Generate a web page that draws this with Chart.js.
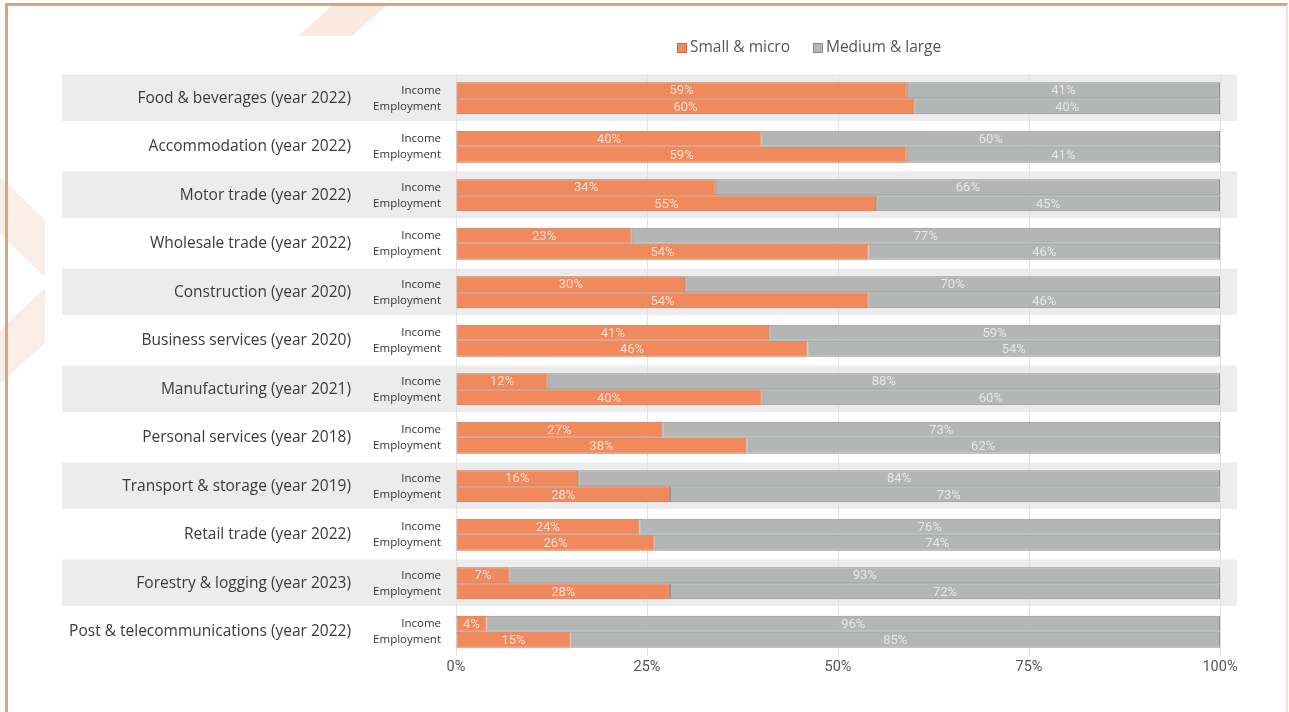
<!DOCTYPE html>
<html>
<head>
<meta charset="utf-8">
<script src="https://cdn.jsdelivr.net/npm/chart.js@4.4.1/dist/chart.umd.min.js"></script>
<style>
  html, body { margin: 0; padding: 0; background: #fff; }
  #wrap { position: relative; width: 1289px; height: 712px; overflow: hidden; }
  #deco { position: absolute; left: 0; top: 0; }
  #frame { position: absolute; left: 5px; top: 3px; width: 1278px; height: 720px;
           border-left: 3px solid #dba67c; border-top: 3px solid #d9a47a; border-right: 2px solid #f3e2d4; }
  #myChart { position: absolute; left: 0; top: 0; }
</style>
</head>
<body>
<div id="wrap">
  <svg id="deco" width="1289" height="712">
    <polygon points="333,5 387,5 352,36 298,36" fill="#fbeadf"/>
    <polygon points="0,177 45,220 45,277 0,234" fill="#f8eee7"/>
    <polygon points="45,288 45,343 0,384 0,330" fill="#f8eee7"/>
  </svg>
  <div id="frame"></div>
  <canvas id="myChart" width="1289" height="712"></canvas>
</div>
<script>
categories = [
  'Food & beverages (year 2022)',
  'Accommodation (year 2022)',
  'Motor trade (year 2022)',
  'Wholesale trade (year 2022)',
  'Construction (year 2020)',
  'Business services (year 2020)',
  'Manufacturing (year 2021)',
  'Personal services (year 2018)',
  'Transport & storage (year 2019)',
  'Retail trade (year 2022)',
  'Forestry & logging (year 2023)',
  'Post & telecommunications (year 2022)'
]
seriesNames = ['Small & micro', 'Medium & large']
rowLabels = ['Income', 'Employment']

incomeSmall     = [59, 40, 34, 23, 30, 41, 12, 27, 16, 24, 7, 4]
incomeLarge     = [41, 60, 66, 77, 70, 59, 88, 73, 84, 76, 93, 96]
employmentSmall = [60, 59, 55, 54, 54, 46, 40, 38, 28, 26, 28, 15]
employmentLarge = [40, 41, 45, 46, 46, 54, 60, 62, 73, 74, 72, 85]

xTickLabels = ['0%', '25%', '50%', '75%', '100%']

var orange = '#f0895c', orangeEdge = '#c96e48'
var grey = '#b4b6b6', greyEdge = '#8e9090'

function makeSet(label, values, stack, fill, edge) {
  return {
    label: label,
    data: values,
    stack: stack,
    backgroundColor: fill,
    borderColor: edge,
    borderWidth: 1,
    borderSkipped: false,
    categoryPercentage: 0.66,
    barPercentage: 1
  }
}

var datasets = [
  makeSet(seriesNames[0], incomeSmall, 'income', orange, orangeEdge),
  makeSet(seriesNames[1], incomeLarge, 'income', grey, greyEdge),
  makeSet(seriesNames[0], employmentSmall, 'employment', orange, orangeEdge),
  makeSet(seriesNames[1], employmentLarge, 'employment', grey, greyEdge)
]

// grey bands behind every other category
const bands = {
  id: 'bands',
  beforeDraw(chart) {
    const ctx = chart.ctx, y = chart.scales.y, area = chart.chartArea
    const step = (y.getPixelForValue(1) - y.getPixelForValue(0))
    ctx.save()
    ctx.fillStyle = '#ececec'
    categories.forEach((c, i) => {
      if (i % 2 !== 0) return
      const cy = y.getPixelForValue(i)
      ctx.fillRect(area.left - 394, cy - step / 2 + 0.5, area.right - area.left + 411, step - 2)
    })
    ctx.restore()
  }
}

// percent labels, row labels and legend
const labels = {
  id: 'labels',
  afterDatasetsDraw(chart) {
    const ctx = chart.ctx, area = chart.chartArea
    ctx.save()
    ctx.textBaseline = 'middle'
    ctx.textAlign = 'center'
    ctx.font = '13px "Roboto", sans-serif'
    chart.data.datasets.forEach((ds, d) => {
      chart.getDatasetMeta(d).data.forEach((bar, i) => {
        ctx.fillStyle = (d % 2 === 0) ? 'rgba(255,236,225,0.85)' : 'rgba(240,240,240,0.85)'
        ctx.fillText(ds.data[i] + '%', (bar.x + bar.base) / 2, bar.y + 1)
      })
    })
    ctx.textAlign = 'right'
    ctx.font = '11.5px "Open Sans"'
    ctx.fillStyle = '#333'
    ;[0, 2].forEach((d, k) => {
      chart.getDatasetMeta(d).data.forEach((bar) => {
        ctx.fillText(rowLabels[k], area.left - 15, bar.y)
      })
    })
    // legend
    ctx.font = '15.5px "Open Sans"'
    ctx.textAlign = 'left'
    var lx = area.left + 221, ly = 48
    ;[[orange, orangeEdge], [grey, greyEdge]].forEach((c, k) => {
      ctx.fillStyle = c[0]
      ctx.fillRect(lx, ly - 5, 10, 10)
      ctx.strokeStyle = c[1]
      ctx.lineWidth = 1
      ctx.strokeRect(lx + 0.5, ly - 4.5, 9, 9)
      ctx.fillStyle = '#555'
      ctx.fillText(seriesNames[k], lx + 13, ly)
      lx += 13 + ctx.measureText(seriesNames[k]).width + 23
    })
    ctx.restore()
  }
}

Chart.defaults.font.family = '"Open Sans", sans-serif'

var ctx = document.getElementById('myChart')
var bar = new Chart(ctx, {
  type: 'bar',
  data: {
    labels: categories,
    datasets: datasets
  },
  options: {
    indexAxis: 'y',
    responsive: false,
    animation: false,
    layout: {
      padding: { left: 10, right: 69, top: 74, bottom: 0 }
    },
    scales: {
      x: {
        stacked: true,
        min: 0,
        max: 100,
        ticks: {
          stepSize: 25,
          padding: 3,
          color: '#555',
          font: { size: 14.5, family: '"Roboto", sans-serif' },
          callback: (v, i) => xTickLabels[i]
        },
        grid: { color: '#e2e2e2', drawTicks: false },
        border: { display: false },
        afterFit: (s) => { s.height = 56; s.paddingLeft = 0; s.paddingRight = 0 }
      },
      y: {
        stacked: true,
        ticks: {
          padding: 105,
          color: '#3a3a3a',
          font: { size: 15.5 }
        },
        grid: { display: false, drawTicks: false },
        border: { display: false },
        afterFit: (s) => { s.width = 446; s.paddingTop = 0; s.paddingBottom = 0 }
      }
    },
    plugins: {
      legend: { display: false },
      tooltip: { enabled: false }
    }
  },
  plugins: [bands, labels]
})
</script>
</body>
</html>
